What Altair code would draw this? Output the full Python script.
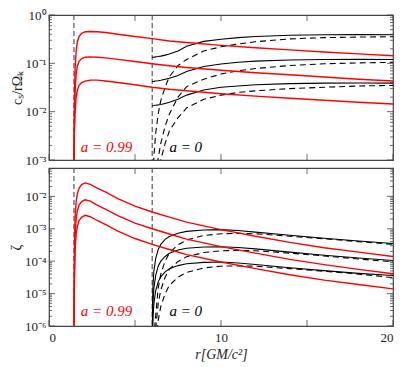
import altair as alt
import pandas as pd

# ---------------- data ----------------
# a = 0.99 (red), shared radius grid
x_red = [1.45, 1.48, 1.52, 1.58, 1.65, 1.75, 1.9, 2.1, 2.4, 2.8, 3.3, 4.0, 5.0, 6.0, 7.0, 8.0,
         10.0, 12.0, 14.0, 16.0, 18.0, 20.0]
cs_red_1 = [0.001, 0.02, 0.08, 0.18, 0.28, 0.36, 0.42, 0.45, 0.455, 0.45, 0.435, 0.40, 0.36, 0.325,
            0.29, 0.27, 0.235, 0.21, 0.19, 0.172, 0.157, 0.144]
cs_red_2 = [0.001, 0.008, 0.028, 0.06, 0.088, 0.11, 0.126, 0.134, 0.136, 0.134, 0.13, 0.121, 0.109,
            0.098, 0.089, 0.082, 0.072, 0.064, 0.058, 0.052, 0.047, 0.043]
cs_red_3 = [0.001, 0.004, 0.01, 0.02, 0.028, 0.035, 0.04, 0.043, 0.045, 0.045, 0.043, 0.04, 0.036,
            0.032, 0.029, 0.027, 0.0235, 0.021, 0.019, 0.0172, 0.0157, 0.0144]
z_red_1 = [1e-6, 3e-4, 2.5e-3, 7e-3, 0.012, 0.018, 0.023, 0.026, 0.0235, 0.018, 0.0135, 0.0085, 0.005,
           0.0033, 0.0023, 0.0016, 9.4e-4, 5.9e-4, 3.8e-4, 2.6e-4, 1.9e-4, 1.4e-4]
z_red_2 = [1e-6, 8e-5, 7e-4, 2.1e-3, 3.6e-3, 5.4e-3, 6.9e-3, 7.8e-3, 7.1e-3, 5.4e-3, 4.0e-3, 2.55e-3,
           1.5e-3, 1.0e-3, 6.9e-4, 4.8e-4, 2.8e-4, 1.77e-4, 1.14e-4, 7.8e-5, 5.6e-5, 4.1e-5]
z_red_3 = [1e-6, 2.5e-5, 2.4e-4, 7e-4, 1.2e-3, 1.8e-3, 2.3e-3, 2.6e-3, 2.35e-3, 1.8e-3, 1.35e-3, 8.5e-4,
           5e-4, 3.3e-4, 2.3e-4, 1.6e-4, 9.4e-5, 5.9e-5, 3.8e-5, 2.6e-5, 1.9e-5, 1.4e-5]

# a = 0 (black), top panel
x_blk = [6.0, 6.1, 6.2, 6.35, 6.5, 6.75, 7.0, 7.5, 8.0, 9.0, 10.0, 11.0, 12.0, 14.0, 16.0, 18.0, 20.0]
cs_blk_1 = [0.133, 0.134, 0.136, 0.138, 0.141, 0.148, 0.156, 0.18, 0.225, 0.285, 0.315, 0.34, 0.36,
            0.38, 0.39, 0.392, 0.39]
cs_blk_2 = [0.042, 0.0423, 0.043, 0.0437, 0.0446, 0.047, 0.049, 0.056, 0.068, 0.086, 0.097, 0.105,
            0.111, 0.117, 0.12, 0.121, 0.12]
cs_blk_3 = [0.0133, 0.0134, 0.0136, 0.0138, 0.0141, 0.0148, 0.0156, 0.018, 0.022, 0.028, 0.032, 0.034,
            0.036, 0.038, 0.039, 0.0392, 0.039]
x_blk_d = [6.02, 6.1, 6.2, 6.35, 6.5, 6.75, 7.0, 7.5, 8.0, 9.0, 10.0, 11.0, 12.0, 14.0, 16.0, 18.0, 20.0]
cs_dsh_1 = [2e-4, 1.2e-3, 3.5e-3, 9e-3, 0.017, 0.032, 0.053, 0.09, 0.12, 0.18, 0.22, 0.25, 0.28, 0.32,
            0.34, 0.35, 0.355]
cs_dsh_2 = [3e-5, 2e-4, 5e-4, 1.1e-3, 2.2e-3, 5e-3, 9e-3, 0.02, 0.033, 0.047, 0.06, 0.07, 0.078, 0.09,
            0.098, 0.102, 0.105]
cs_dsh_3 = [1e-6, 3e-5, 1e-4, 4e-4, 1e-3, 2.2e-3, 4e-3, 7.5e-3, 0.012, 0.018, 0.022, 0.025, 0.027,
            0.03, 0.032, 0.034, 0.035]

# a = 0 (black), bottom panel
x_zb = [6.0, 6.02, 6.05, 6.1, 6.2, 6.35, 6.5, 6.75, 7.0, 7.5, 8.0, 9.0, 10.0, 11.0, 12.0, 14.0, 16.0,
        18.0, 20.0]
z_blk_1 = [1e-7, 5e-6, 2e-5, 5e-5, 1.2e-4, 2.3e-4, 3.3e-4, 4.7e-4, 5.8e-4, 7.3e-4, 8.3e-4, 9.2e-4,
           9.4e-4, 8.8e-4, 7.9e-4, 6.3e-4, 5.1e-4, 4.2e-4, 3.5e-4]
z_blk_2 = [1e-7, 1.5e-6, 6e-6, 1.5e-5, 3.6e-5, 7e-5, 1e-4, 1.4e-4, 1.75e-4, 2.2e-4, 2.5e-4, 2.75e-4,
           2.8e-4, 2.65e-4, 2.4e-4, 1.9e-4, 1.53e-4, 1.26e-4, 1.05e-4]
z_blk_3 = [1e-7, 5e-7, 2e-6, 5e-6, 1.2e-5, 2.3e-5, 3.3e-5, 4.7e-5, 5.8e-5, 7.3e-5, 8.3e-5, 9.2e-5,
           9.4e-5, 8.8e-5, 7.9e-5, 6.3e-5, 5.1e-5, 4.2e-5, 3.6e-5]
x_zd = [6.05, 6.1, 6.2, 6.35, 6.5, 6.75, 7.0, 7.5, 8.0, 9.0, 10.0, 11.0, 12.0, 14.0, 16.0, 18.0, 20.0]
z_dsh_1 = [1e-7, 5e-7, 2e-6, 1.5e-5, 4e-5, 1e-4, 1.8e-4, 3.2e-4, 4.5e-4, 6.2e-4, 7e-4, 7.2e-4, 7e-4,
           5.9e-4, 4.9e-4, 4e-4, 3.3e-4]
z_dsh_2 = [1e-7, 2e-7, 8e-7, 5e-6, 1.3e-5, 3.2e-5, 5.6e-5, 9.8e-5, 1.37e-4, 1.85e-4, 2.1e-4, 2.15e-4,
           2.1e-4, 1.77e-4, 1.45e-4, 1.17e-4, 9.5e-5]
z_dsh_3 = [1e-8, 5e-8, 2e-7, 1.5e-6, 4e-6, 1e-5, 1.8e-5, 3.2e-5, 4.5e-5, 6.2e-5, 7e-5, 7.2e-5, 7e-5,
           5.9e-5, 4.9e-5, 4e-5, 3.1e-5]

isco = [1.45, 6.0]
labels = ["a = 0.99", "a = 0"]
label_colors = ["#ff0000", "#000000"]
label_x = [1.85, 7.0]
label_y_top = [1.9e-3, 1.9e-3]
label_y_bot = [3e-6, 3e-6]

x_ticks = [0, 5, 10, 15, 20]
x_tick_labels = [0, 10, 20]

FONT = "Liberation Serif"
W = 344
TICK = "#444444"


def long(xs, series):
    rows = []
    for name, ys in series.items():
        for x, y in zip(xs, ys):
            rows.append({"x": x, "y": y, "curve": name})
    return pd.DataFrame(rows)


def log_ticks(lo_exp, hi_exp, top):
    vals = []
    for e in range(lo_exp, hi_exp + 1):
        for m in range(1, 10):
            v = m * 10.0 ** e if e >= 0 else m / 10.0 ** (-e)
            if v <= top * 1.0000001:
                vals.append(v)
    return vals


SUP = {"0": "⁰", "1": "¹", "2": "²", "3": "³", "4": "⁴", "5": "⁵", "6": "⁶", "-": "⁻"}


def power_expr(exps):
    parts = []
    for e in exps:
        v = 10.0 ** e if e >= 0 else 1 / 10.0 ** (-e)
        lab = "10" + "".join(SUP[c] for c in str(e))
        parts.append(f"datum.value == {repr(v)} ? '{lab}'")
    return " : ".join(parts) + " : ''"


x_scale = alt.Scale(domain=[0, 20], nice=False, zero=False)


def panel(red_df, blk_df, dsh_df, ydom, yvals, exps, ytitle, height, show_x, ly):
    if show_x:
        xaxis = alt.Axis(values=x_tick_labels, title="r[GM/c²]", grid=False, domain=False,
                         ticks=False, titleFontStyle="italic", labelPadding=5, titlePadding=3)
    else:
        xaxis = None
    yscale = alt.Scale(type="log", domain=ydom, nice=False)
    yaxis = alt.Axis(values=yvals, labelExpr=power_expr(exps), title=ytitle, grid=False,
                     domain=False, ticks=False, labelPadding=3, titlePadding=1)

    X = alt.X("x:Q", scale=x_scale, axis=xaxis)
    Y = alt.Y("y:Q", scale=yscale, axis=yaxis)

    red = alt.Chart(red_df).mark_line(color="#ff0000", strokeWidth=1.4, clip=True).encode(
        x=X, y=Y, detail="curve:N")
    blk = alt.Chart(blk_df).mark_line(color="#000000", strokeWidth=1.1, clip=True).encode(
        x=X, y=Y, detail="curve:N")
    dsh = alt.Chart(dsh_df).mark_line(color="#000000", strokeWidth=1.1, strokeDash=[6, 4],
                                      clip=True).encode(x=X, y=Y, detail="curve:N")
    vr = alt.Chart(pd.DataFrame({"x": isco})).mark_rule(
        color="#555555", strokeDash=[5, 3], strokeWidth=1.2).encode(x=X)
    txt_df = pd.DataFrame({"x": label_x, "y": ly, "t": labels, "c": label_colors})
    txt = alt.Chart(txt_df).mark_text(font=FONT, fontSize=15, align="left", baseline="middle",
                                      fontStyle="italic").encode(
        x=X, y=Y, text="t:N", color=alt.Color("c:N", scale=None))

    # inward ticks on all four sides
    majors = [10.0 ** e if e >= 0 else 1 / 10.0 ** (-e) for e in exps]
    ydf = pd.DataFrame({"y": yvals,
                        "major": [any(abs(v / m - 1) < 1e-9 for m in majors) for v in yvals]})
    ymaj = ydf[ydf.major]
    ymin = ydf[~ydf.major]
    tk = []
    for d, ln in ((ymaj, 6), (ymin, 3)):
        tk.append(alt.Chart(d).mark_rule(color=TICK, strokeWidth=0.8).encode(
            y=Y, x=alt.value(0), x2=alt.value(ln)))
        tk.append(alt.Chart(d).mark_rule(color=TICK, strokeWidth=0.8).encode(
            y=Y, x=alt.value(W - ln), x2=alt.value(W)))
    xdf = pd.DataFrame({"x": x_ticks})
    tk.append(alt.Chart(xdf).mark_rule(color=TICK, strokeWidth=0.8).encode(
        x=X, y=alt.value(0), y2=alt.value(6)))
    tk.append(alt.Chart(xdf).mark_rule(color=TICK, strokeWidth=0.8).encode(
        x=X, y=alt.value(height - 6), y2=alt.value(height)))

    return alt.layer(vr, dsh, blk, red, txt, *tk).properties(width=W, height=height)


top_red = long(x_red, {"r1": cs_red_1, "r2": cs_red_2, "r3": cs_red_3})
top_blk = long(x_blk, {"b1": cs_blk_1, "b2": cs_blk_2, "b3": cs_blk_3})
top_dsh = long(x_blk_d, {"d1": cs_dsh_1, "d2": cs_dsh_2, "d3": cs_dsh_3})
bot_red = long(x_red, {"r1": z_red_1, "r2": z_red_2, "r3": z_red_3})
bot_blk = long(x_zb, {"b1": z_blk_1, "b2": z_blk_2, "b3": z_blk_3})
bot_dsh = long(x_zd, {"d1": z_dsh_1, "d2": z_dsh_2, "d3": z_dsh_3})

top = panel(top_red, top_blk, top_dsh, [1e-3, 1.0], log_ticks(-3, 0, 1.0), [0, -1, -2, -3],
            "cₛ/rΩₖ", 145, False, label_y_top)
bot = panel(bot_red, bot_blk, bot_dsh, [1e-6, 0.075], log_ticks(-6, -2, 0.075),
            [-2, -3, -4, -5, -6], "ζ", 158, True, label_y_bot)

chart = alt.vconcat(top, bot, spacing=8, bounds="flush").properties(padding=0).configure_view(
    stroke="#444444", strokeWidth=1.2).configure_axis(
    labelFont=FONT, titleFont=FONT, labelFontSize=13, titleFontSize=14, titleFontWeight="normal",
    labelColor="#222222", titleColor="#222222")

chart.save("out.html", embed_options={"renderer": "svg", "actions": False})
